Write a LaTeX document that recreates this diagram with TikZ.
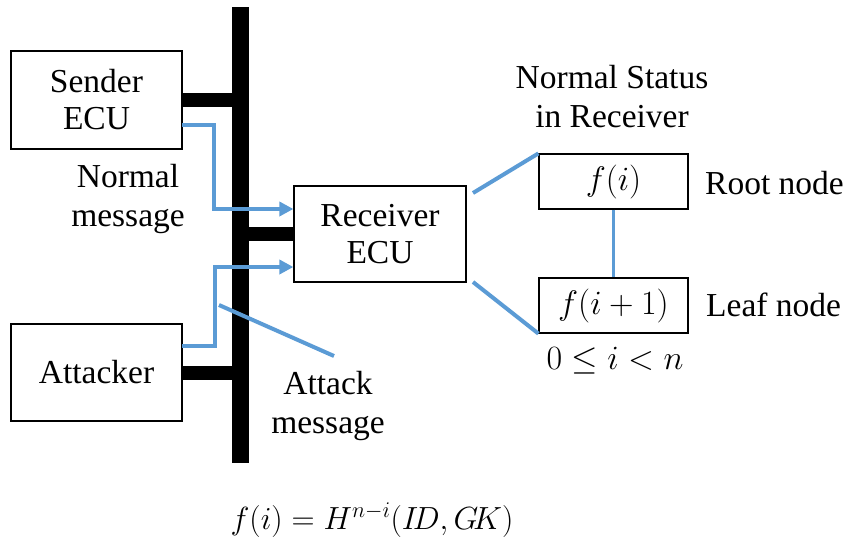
\documentclass[tikz,border=0pt]{standalone}
\usepackage{fix-cm}
\usepackage{fontspec}
\setmainfont{Liberation Serif}
\usetikzlibrary{arrows.meta}
\definecolor{msgblue}{HTML}{5B9BD5}
\tikzset{
  ecubox/.style={draw=black, line width=1.2pt, fill=white, inner sep=0pt, align=center, font=\fontsize{33.5}{37}\selectfont},
  lbl/.style={inner sep=0pt, align=center, font=\fontsize{33.5}{39}\selectfont},
  mathfont/.style={font=\fontsize{34}{38}\selectfont},
  mathbox/.style={draw=black, line width=1.2pt, fill=white, inner sep=0pt, mathfont},
  busline/.style={line width=17pt, black},
  stub/.style={line width=14pt, black},
  blueline/.style={line width=4pt, msgblue},
  bluearrow/.style={line width=4pt, msgblue, -{Triangle[length=14pt,width=14pt]}},
}
\begin{document}
\begin{tikzpicture}[x=1pt,y=-1pt]
\useasboundingbox (0,0) rectangle (848,546);
% bus
\coordinate (bustop) at (240,7);
\coordinate (busbot) at (240,463);
\draw[busline] (bustop) -- (busbot);
% boxes
\node[ecubox, minimum width=171pt, minimum height=98pt] (sender) at (96.5,100) {Sender\\ECU};
\node[ecubox, minimum width=171pt, minimum height=97pt] (attacker) at (96.5,372.5) {Attacker};
\node[ecubox, minimum width=172pt, minimum height=96pt] (receiver) at (380,234) {Receiver\\ECU};
% stubs
\coordinate (bs1) at (240,100);
\coordinate (bs2) at (240,234);
\coordinate (bs3) at (240,373);
\draw[stub] (sender.east |- bs1) -- (bs1);
\draw[stub] (bs2) -- (receiver.west |- bs2);
\draw[stub] (attacker.east |- bs3) -- (bs3);
% message arrows
\coordinate (s0) at (182,125);
\coordinate (s1) at (214,125);
\coordinate (s2) at (214,209);
\coordinate (a0) at (182,346);
\coordinate (a1) at (215,346);
\coordinate (a2) at (215,267);
\draw[bluearrow] (s0) -- (s1) -- (s2) -- (receiver.west |- s2);
\draw[bluearrow] (a0) -- (a1) -- (a2) -- (receiver.west |- a2);
% callout for attack message
\coordinate (c0) at (219,305);
\coordinate (c1) at (334,356);
\draw[blueline] (c0) -- (c1);
% labels
\node[lbl] (normmsg) at (128,199) {Normal\\message};
\node[lbl] (attmsg) at (328,406) {Attack\\message};
\node[lbl] (status) at (612,97) {Normal Status\\in Receiver};
% tree
\node[mathbox, minimum width=149pt, minimum height=55pt] (root) at (613.5,181.5) {$f(i)$};
\node[mathbox, minimum width=149pt, minimum height=55pt] (leaf) at (613.5,305.5) {$f(i+1)$};
\draw[line width=3pt, msgblue] (root.south) -- (leaf.south |- leaf.north);
\coordinate (r1) at (473,193);
\coordinate (r2) at (473,282);
\draw[blueline] (r1) -- (root.north west);
\draw[blueline] (r2) -- (leaf.south west);
\node[lbl, anchor=west] (rootlbl) at (705,183) {Root node};
\node[lbl, anchor=west] (leaflbl) at (706,305) {Leaf node};
\node[lbl, mathfont] (range) at (615,361) {$0\le i<n$};
\node[lbl, font=\fontsize{32}{36}\selectfont] (formula) at (372,520) {$f(i)=H^{n-i}(I\!D,G\!K)$};
\end{tikzpicture}
\end{document}
